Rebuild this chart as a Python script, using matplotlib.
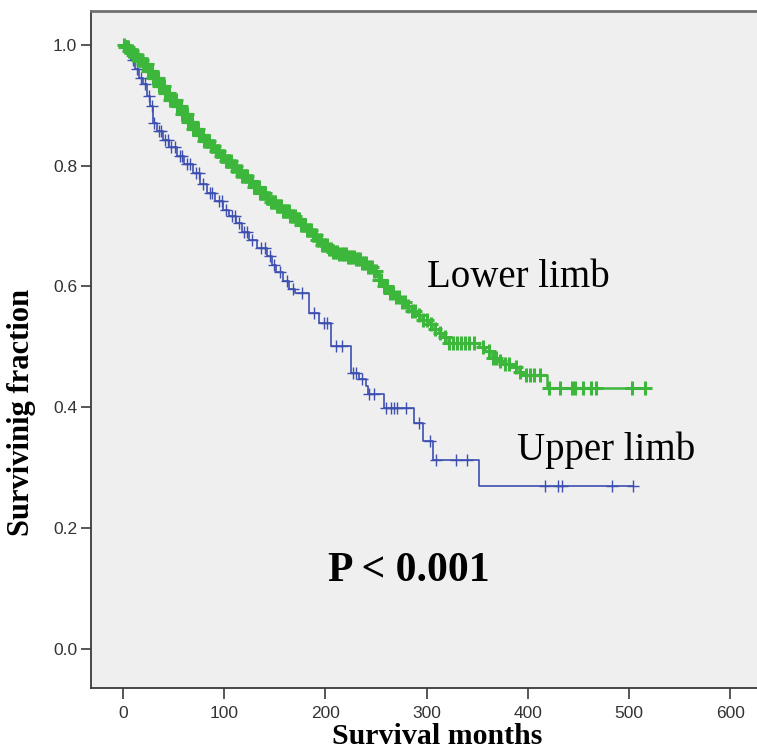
import numpy as np
import matplotlib
matplotlib.use("Agg")
import matplotlib.pyplot as plt

# ---------------- data ----------------
lower_t = [0, 2, 6, 10, 15, 20, 25, 30, 36, 42, 47, 53, 58, 64, 69, 75, 80, 86, 91, 97,
           102, 108, 113, 118, 124, 129, 135, 141, 146, 151, 158, 165, 171, 176, 181, 187,
           192, 197, 203, 208, 214, 222, 230, 236, 241, 247, 253, 258, 263, 268, 274, 280,
           285, 291, 296, 302, 307, 312, 316, 319, 352, 358, 365, 370, 375, 384, 391, 394, 419]
lower_s = [1.0, 0.997, 0.99, 0.983, 0.975, 0.968, 0.957, 0.945, 0.932, 0.920, 0.909, 0.898,
           0.886, 0.873, 0.860, 0.850, 0.841, 0.832, 0.824, 0.816, 0.808, 0.800, 0.791, 0.783,
           0.774, 0.764, 0.755, 0.747, 0.740, 0.733, 0.725, 0.716, 0.711, 0.702, 0.694, 0.685,
           0.677, 0.669, 0.662, 0.657, 0.653, 0.649, 0.645, 0.638, 0.632, 0.625, 0.611, 0.600,
           0.589, 0.582, 0.574, 0.567, 0.560, 0.552, 0.545, 0.538, 0.530, 0.523, 0.516, 0.507,
           0.499, 0.493, 0.482, 0.476, 0.471, 0.466, 0.459, 0.454, 0.432]
lower_end = 519
lower_cens = [1, 2, 3, 4, 5, 6, 7, 8, 9, 10, 11, 12, 13, 14, 15, 16, 17, 18, 19, 20, 21, 22,
              23, 24, 25, 26, 27, 28, 29, 30, 31, 32, 33, 34, 35, 36, 37, 38, 39, 40, 41, 42,
              43, 44, 45, 46, 47, 48, 49, 50, 51, 52, 53, 54, 55, 56, 57, 58, 59, 60, 61, 62,
              63, 64, 65, 66, 67, 68, 69, 70, 71, 72, 73, 74, 75, 76, 77, 78, 79, 80, 82, 83,
              84, 85, 87, 88, 89, 90, 92, 93, 94, 95, 97, 98, 99, 100, 102, 103, 104, 105,
              107, 108, 109, 110, 112, 113, 114, 116, 117, 118, 119, 121, 122, 123, 125, 126,
              127, 128, 130, 131, 132, 134, 135, 136, 137, 139, 140, 142, 143, 144, 146, 147,
              149, 150, 152, 153, 155, 156, 158, 159, 161, 162, 164, 165, 167, 168, 170, 171,
              173, 174, 176, 177, 179, 180, 182, 183, 185, 186, 188, 189, 191, 192, 194, 196,
              197, 199, 200, 202, 204, 206, 208, 210, 212, 214, 216, 218, 220, 222, 224, 226,
              228, 230, 232, 234, 236, 238, 240, 242, 244, 246, 248, 250, 253, 255, 258, 261,
              264, 267, 270, 273, 276, 279, 282, 286, 289, 293, 297, 300, 304, 308, 313, 318,
              322, 326, 330, 334, 338, 342, 347, 356, 362, 366, 369, 373, 378, 381, 388, 392,
              398, 402, 406, 412, 421, 432, 444, 447, 455, 463, 467, 503, 516]

upper_t = [0, 4, 8, 12, 16, 20, 24, 27, 30, 34, 40, 46, 53, 60, 69, 76, 83, 91, 99, 105,
           112, 118, 125, 133, 142, 147, 151, 158, 164, 170, 184, 194, 206, 225, 233, 240,
           242, 258, 288, 297, 306, 352]
upper_s = [1.0, 0.99, 0.975, 0.96, 0.945, 0.935, 0.915, 0.899, 0.871, 0.858, 0.843, 0.830,
           0.816, 0.803, 0.788, 0.770, 0.755, 0.741, 0.727, 0.716, 0.705, 0.690, 0.677, 0.663,
           0.650, 0.636, 0.623, 0.609, 0.595, 0.589, 0.556, 0.540, 0.501, 0.457, 0.446, 0.435,
           0.421, 0.399, 0.374, 0.344, 0.313, 0.269]
upper_end = 504
upper_cens = [6, 10, 14, 18, 22, 26, 29, 31, 36, 38, 42, 45, 48, 51, 56, 58, 63, 66, 72, 75,
              79, 86, 88, 95, 98, 102, 108, 111, 115, 120, 123, 128, 136, 140, 145, 149, 155,
              162, 168, 177, 189, 199, 202, 211, 216, 227, 230, 236, 243, 248, 260, 265, 268,
              271, 280, 293, 303, 309, 329, 340, 417, 430, 434, 483, 504]

x_ticks = [0, 100, 200, 300, 400, 500, 600]
y_ticks = [0.0, 0.2, 0.4, 0.6, 0.8, 1.0]

label_lower = "Lower limb"
label_upper = "Upper limb"
p_text = "P < 0.001"
x_label = "Survival months"
y_label = "Survivinig fraction"

# ---------------- styling ----------------
green = "#3cb73c"
blue = "#3d4fb0"
serif = ["Liberation Serif", "DejaVu Serif"]
sans = ["Liberation Sans", "DejaVu Sans"]

fig = plt.figure(figsize=(7.57, 7.51), dpi=100)
ax = fig.add_axes([91 / 757, 1 - 688 / 751, 1 - 91 / 757 + 0.01, (688 - 11) / 751])
ax.set_facecolor("#efefef")


def km_draw(t, s, end, cens, color, lw, ms, mew):
    t = np.asarray(t, float)
    s = np.asarray(s, float)
    tt = np.append(t, end)
    ss = np.append(s, s[-1])
    ax.step(tt, ss, where="post", color=color, lw=lw, zorder=3)
    c = np.asarray(cens, float)
    idx = np.searchsorted(t, c, side="right") - 1
    ax.plot(c, s[idx], ls="none", marker="+", color=color, ms=ms, mew=mew, zorder=4)


km_draw(upper_t, upper_s, upper_end, upper_cens, blue, 1.2, 8, 1.0)
km_draw(lower_t, lower_s, lower_end, lower_cens, green, 1.8, 10, 2.2)

ax.set_xlim(-31.5, 634)
ax.set_ylim(-0.065, 1.056)
ax.set_xticks(x_ticks)
ax.set_yticks(y_ticks)
ax.set_yticklabels([f"{v:.1f}" for v in y_ticks])
ax.set_xticklabels([str(v) for v in x_ticks])

for side in ["left", "bottom", "top"]:
    ax.spines[side].set_color("#3a3a3a")
    ax.spines[side].set_linewidth(1.3)
ax.spines["top"].set_color("#707070")
ax.spines["top"].set_linewidth(2.0)
ax.spines["right"].set_visible(False)
ax.tick_params(direction="out", width=1.2, color="#3a3a3a",
               labelsize=12.5, labelcolor="#333333")
ax.tick_params(axis="y", length=7, pad=3)
ax.tick_params(axis="x", length=8, pad=5)
for lab in ax.get_xticklabels() + ax.get_yticklabels():
    lab.set_family(sans)

ax.text(300.5, 0.599, label_lower, family=serif, fontsize=28, va="baseline", ha="left",
        color="black")
ax.text(389.2, 0.313, label_upper, family=serif, fontsize=28, va="baseline", ha="left",
        color="black")
ax.text(203, 0.112, p_text, family=serif, fontsize=30, fontweight="bold",
        va="baseline", ha="left", color="black")

fig.text(437 / 757, 1.5 / 751, x_label, family=serif, fontsize=21.5, fontweight="bold",
         ha="center", va="bottom")
fig.text(22 / 757, 1 - 412 / 751, y_label, family=serif, fontsize=22, fontweight="bold",
         ha="center", va="center", rotation=90)

fig.savefig("out.png", dpi=100)
